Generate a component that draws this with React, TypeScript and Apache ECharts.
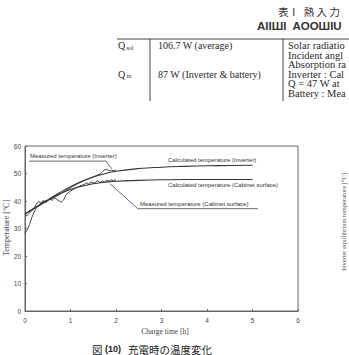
import React, { useEffect, useRef } from "react";
import * as echarts from "echarts";

// ---- data ----
const calcTime = [0, 0.25, 0.5, 0.75, 1, 1.25, 1.5, 1.75, 2, 2.5, 3, 3.5, 4, 4.5, 5];
const calcInverter = [35.3, 37.9, 40.4, 42.9, 45.2, 47.2, 48.7, 49.9, 50.8, 51.8, 52.3, 52.6, 52.8, 52.9, 53.0];
const calcCabinet = [35.3, 37.7, 40.2, 42.5, 44.2, 45.4, 46.3, 46.8, 47.2, 47.5, 47.7, 47.8, 47.8, 47.8, 47.8];

const measTimeInv = [0, 0.05, 0.1, 0.15, 0.2, 0.25, 0.3, 0.35, 0.4, 0.5, 0.6, 0.7, 0.8, 0.9, 1.0, 1.1, 1.2, 1.3, 1.4, 1.5, 1.6, 1.65, 1.7, 1.75, 1.8, 1.85, 1.9, 1.95, 2.0];
const measInverter = [28.3, 29.5, 31.5, 34, 36, 37.5, 38.5, 39.2, 39.8, 40.3, 41, 41.8, 42.8, 43.8, 44.8, 45.8, 46.6, 47.4, 48.1, 48.8, 49.5, 49.8, 50.6, 51.4, 51.5, 51.0, 51.2, 51.0, 51.3];

const measTimeCab = [0, 0.05, 0.1, 0.15, 0.2, 0.25, 0.3, 0.35, 0.4, 0.45, 0.5, 0.55, 0.6, 0.65, 0.7, 0.75, 0.8, 0.85, 0.9, 0.95, 1.0, 1.1, 1.2, 1.3, 1.35, 1.4, 1.45, 1.5, 1.55, 1.6, 1.65, 1.7, 1.75, 1.8, 1.85, 1.9, 1.95, 2.0];
const measCabinet = [34.5, 34.8, 35.6, 36.5, 37.6, 38.8, 39.8, 39.2, 40.2, 39.4, 40.0, 40.8, 40.2, 41.2, 40.6, 40.0, 39.6, 40.4, 42.2, 43.0, 43.6, 44.6, 45.4, 46.0, 46.6, 46.2, 46.9, 46.5, 46.8, 47.4, 46.7, 47.3, 47.0, 47.6, 47.2, 47.7, 47.4, 47.8];

// annotation leader lines (data coords)
const leaderInverter = [[0.09, 54.5], [1.78, 54.5], [1.91, 51.7]];
const leaderCabinet = [[1.87, 46.25], [2.48, 37.2], [5.12, 37.2]];

const xTicks = [0, 1, 2, 3, 4, 5, 6];
const yTicks = [0, 10, 20, 30, 40, 50, 60];

// texts
const tableTitle = "表Ⅰ  熱 入 力";
const tableTitleEn = "AIIШI  AOOШIU";
const col1Rows = [{ sub: "sol", y: 45.5 }, { sub: "in", y: 74 }];
const col2Rows = [{ t: "106.7 W (average)", y: 45.5 }, { t: "87 W (Inverter & battery)", y: 74 }];
const col3Rows = ["Solar radiatio", "Incident angl", "Absorption ra", "Inverter : Cal", "Q = 47 W at", "Battery : Mea"];
const col3Y = [45.5, 55, 64.5, 74, 83.5, 93];

const zip = (a: number[], b: number[]) => a.map((v, i) => [v, b[i]]);

export default function App() {
  const ref = useRef<HTMLDivElement>(null);
  useEffect(() => {
    if (!ref.current) return;
    const chart = echarts.init(ref.current, null, { renderer: "svg" });
    const lineColor = "#333";
    const serif = "'Liberation Serif', serif";
    const sans = "'Liberation Sans', Arial, sans-serif";
    const cjk = "'Noto Sans CJK JP', sans-serif";
    const txt = (x: number, y: number, text: string, extra: any = {}, sExtra: any = {}) => ({
      type: "text", x, y, silent: true, ...extra,
      style: { text, fill: "#2a2a2a", fontSize: 10, fontFamily: serif, verticalAlign: "middle", align: "left", ...sExtra },
    });
    const graphics: any[] = [
      txt(278, 11, tableTitle, {}, { fontFamily: cjk, fontSize: 10.5, fill: "#333" }),
      txt(257, 26, tableTitleEn, {}, { fontFamily: sans, fontSize: 11.5, fontWeight: "bold", fill: "#333" }),
      { type: "line", silent: true, shape: { x1: 117, y1: 39, x2: 349, y2: 39 }, style: { stroke: "#444", lineWidth: 1 } },
      { type: "line", silent: true, shape: { x1: 150, y1: 39, x2: 150, y2: 101 }, style: { stroke: "#444", lineWidth: 1 } },
      { type: "line", silent: true, shape: { x1: 283, y1: 39, x2: 283, y2: 101 }, style: { stroke: "#444", lineWidth: 1 } },
      ...col1Rows.flatMap((r) => [
        txt(118, r.y, "Q", {}, { fontSize: 10 }),
        txt(126.5, r.y + 2, r.sub, {}, { fontSize: 6 }),
      ]),
      ...col2Rows.map((r) => txt(158, r.y, r.t)),
      ...col3Rows.map((t, i) => txt(288, col3Y[i], t, {}, { fontSize: 10.5 })),
      txt(6, 228, "Temperature [°C]", { rotation: Math.PI / 2 }, { align: "center", fontSize: 8, fill: "#444" }),
      txt(343, 222, "Inverter equilibrium temperature [°C]", { rotation: Math.PI / 2 }, { align: "center", fontSize: 6.5, fill: "#555" }),
      txt(165, 331, "Charge time [h]", {}, { align: "center", fontSize: 7.5, fill: "#444" }),
      txt(30, 155.5, "Measured temperature (Inverter)", {}, { fontFamily: sans, fontSize: 6, fill: "#333" }),
      txt(168, 159.5, "Calculated temperature (Inverter)", {}, { fontFamily: sans, fontSize: 6, fill: "#333" }),
      txt(168, 185, "Calculated temperature (Cabinet surface)", {}, { fontFamily: sans, fontSize: 6, fill: "#333" }),
      txt(140, 203.5, "Measured temperature (Cabinet surface)", {}, { fontFamily: sans, fontSize: 6, fill: "#333" }),
      txt(92, 349, "図", {}, { fontFamily: cjk, fontSize: 10.5, fill: "#222" }),
      txt(105, 349, "(10)", {}, { fontFamily: sans, fontSize: 9, fontWeight: "bold", fill: "#222" }),
      txt(128, 349, "充電時の温度変化", {}, { fontFamily: cjk, fontSize: 10.5, fill: "#222" }),
    ];

    const lineSeries = (data: number[][], width = 1, color = lineColor) => ({
      type: "line", data, showSymbol: false, symbol: "none", silent: true,
      lineStyle: { color, width }, smooth: false,
    });

    chart.setOption({
      animation: false,
      backgroundColor: "#ffffff",
      grid: { left: 25, right: 51, top: 146, bottom: 44, show: true, borderColor: "#666", borderWidth: 1 },
      xAxis: {
        type: "value", min: xTicks[0], max: xTicks[xTicks.length - 1], interval: 1,
        axisLine: { lineStyle: { color: "#666", width: 1 } },
        axisTick: { inside: true, length: 2, lineStyle: { color: "#666" } },
        axisLabel: { fontSize: 6.5, color: "#444", margin: 6, fontFamily: sans },
        splitLine: { show: false },
      },
      yAxis: {
        type: "value", min: yTicks[0], max: yTicks[yTicks.length - 1], interval: 10,
        axisLine: { show: true, lineStyle: { color: "#666", width: 1 } },
        axisTick: { show: true, inside: true, length: 2, lineStyle: { color: "#666" } },
        axisLabel: { fontSize: 6.5, color: "#444", margin: 4, fontFamily: sans },
        splitLine: { show: false },
      },
      series: [
        { ...lineSeries(zip(calcTime, calcInverter), 1.1), smooth: true, name: "Calculated temperature (Inverter)" },
        { ...lineSeries(zip(calcTime, calcCabinet), 1.1), smooth: true, name: "Calculated temperature (Cabinet surface)" },
        { ...lineSeries(zip(measTimeInv, measInverter), 0.9), name: "Measured temperature (Inverter)" },
        { ...lineSeries(zip(measTimeCab, measCabinet), 0.9), name: "Measured temperature (Cabinet surface)" },
        lineSeries(leaderInverter, 0.8, "#444"),
        lineSeries(leaderCabinet, 0.8, "#444"),
      ],
      graphic: graphics,
    });
    return () => chart.dispose();
  }, []);
  return (
    <div
      ref={ref}
      style={{ position: "fixed", left: 0, top: 0, width: 349, height: 355, background: "#fff" }}
    />
  );
}
